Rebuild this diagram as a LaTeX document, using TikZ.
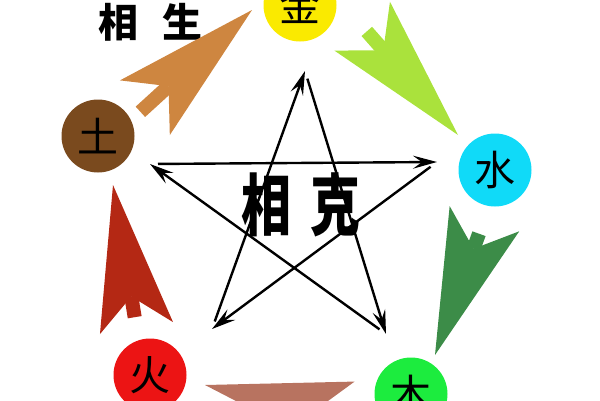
\documentclass[tikz,border=0pt]{standalone}
\usepackage{fontspec}
\newfontfamily\cjk{Noto Sans CJK SC}
\usetikzlibrary{arrows.meta}
\definecolor{jincol}{RGB}{250,234,0}
\definecolor{shuicol}{RGB}{16,218,248}
\definecolor{mucol}{RGB}{28,236,62}
\definecolor{huocol}{RGB}{236,20,20}
\definecolor{tucol}{RGB}{122,74,30}
\definecolor{tujin}{RGB}{206,134,64}
\definecolor{jinshui}{RGB}{170,226,60}
\definecolor{shuimu}{RGB}{60,140,72}
\definecolor{muhuo}{RGB}{184,115,96}
\definecolor{huotu}{RGB}{180,40,20}
\tikzset{
element/.style = {circle, minimum size = 73pt, inner sep = 0pt,
   font = \cjk\fontsize{41}{41}\selectfont},
heading/.style = {inner sep = 0pt, font = \cjk\bfseries\fontsize{40}{40}\selectfont},
ke/.style = {-{Stealth[length = 24pt, width = 13pt, inset = 9pt]}, line width = 2.4pt,
   shorten < = 8pt},
sheng/.style = {line width = 14pt,
   -{Stealth[length = 145pt, width = 74pt, inset = 32pt, line width = 0pt]}}
}
\begin{document}
\begin{tikzpicture}[x = 1pt, y = -1pt]
\useasboundingbox (0,0) rectangle (600,400);

%% Elements
\node [element, fill = jincol] (jin) at (300,5) {金};
\node [element, fill = shuicol] (shui) at (495,170) {水};
\node [element, fill = mucol] (mu) at (411,394) {木};
\node [element, fill = huocol] (huo) at (150,375) {火};
\node [element, fill = tucol] (tu) at (98,136) {土};

%% Titles
\node [heading] (shengtitle) at (150,22) {相\hspace{0.6em}生};
\node [heading, font = \cjk\bfseries\fontsize{50}{50}\selectfont, yscale = 1.35]
   (ketitle) at (301,205) {相\hspace{0.4em}克};

%% Star corners
\coordinate (kjin) at (305,71);
\coordinate (kshui) at (437,162);
\coordinate (kmu) at (386,334);
\coordinate (khuo) at (212,329);
\coordinate (ktu) at (150,164);

%% Controlling cycle
\path [ke] (ktu) edge (kshui);
\path [ke] (kshui) edge (khuo);
\path [ke] (khuo) edge (kjin);
\path [ke] (kjin) edge (kmu);
\path [ke] (kmu) edge (ktu);

%% Generating cycle
\coordinate (s1) at (140.4,111.8);
\coordinate (h1) at (252,10);
\path [sheng, color = tujin] (s1) edge (h1);

\coordinate (s2) at (366.8,31.4);
\coordinate (h2) at (458,135);
\path [sheng, color = jinshui] (s2) edge (h2);

\coordinate (s3) at (479,233.7);
\coordinate (h3) at (435,355);
\path [sheng, color = shuimu] (s3) edge (h3);

\coordinate (s4) at (341.4,416.5);
\coordinate (h4) at (205,385);
\path [sheng, color = muhuo] (s4) edge (h4);

\coordinate (s5) at (134.7,317.2);
\coordinate (h5) at (113,185);
\path [sheng, color = huotu] (s5) edge (h5);

\end{tikzpicture}
\end{document}
